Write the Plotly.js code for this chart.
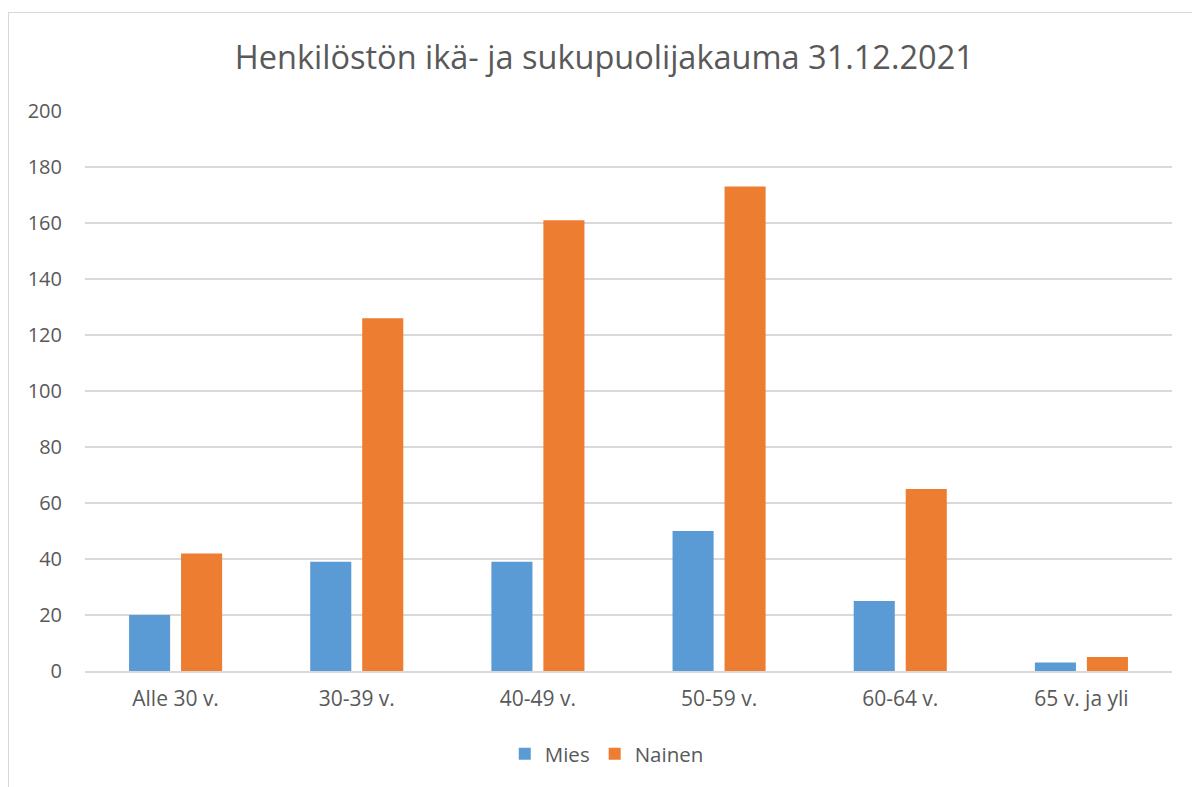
<!DOCTYPE html>
<html>
<head>
<meta charset="utf-8">
<script src="https://cdn.plot.ly/plotly-3.0.1.min.js"></script>
<style>
  html, body { margin: 0; padding: 0; background: #fff; overflow: hidden; }
  #chart { position: absolute; left: 0; top: 0; width: 1192px; height: 787px; }
  #frame { position: absolute; left: 8px; top: 12px; width: 1200px; height: 800px;
           border: 1px solid #d9d9d9; pointer-events: none; }
</style>
</head>
<body>
<div id="chart"></div>
<div id="frame"></div>
<script>
const categories = ["Alle 30 v.", "30-39 v.", "40-49 v.", "50-59 v.", "60-64 v.", "65 v. ja yli"];
const mies = [20, 39, 39, 50, 25, 3];
const nainen = [42, 126, 161, 173, 65, 5];
const yTicks = [0, 20, 40, 60, 80, 100, 120, 140, 160, 180, 200];

const fontFam = "'Open Sans', sans-serif";
const textColor = "#595959";

const data = [
  { type: "bar", name: "Mies", x: categories, y: mies,
    marker: { color: "#5B9BD5" }, hoverinfo: "x+y" },
  { type: "bar", name: "Nainen", x: categories, y: nainen,
    marker: { color: "#ED7D31" }, hoverinfo: "x+y" }
];

const layout = {
  width: 1192, height: 787,
  margin: { l: 85, r: 20, t: 111, b: 116 },
  paper_bgcolor: "#ffffff", plot_bgcolor: "#ffffff",
  font: { family: fontFam, color: textColor, size: 20 },
  title: { text: "Henkilöstön ikä- ja sukupuolijakauma 31.12.2021",
           font: { family: fontFam, size: 32.5, color: textColor },
           x: 0.507, xref: "container", xanchor: "center",
           y: 0.927, yref: "container", yanchor: "middle" },
  barmode: "group", bargap: 0.426, bargroupgap: 0.21,
  xaxis: { type: "category", showgrid: false, zeroline: false,
           showline: true, linecolor: "#d9d9d9", linewidth: 2,
           ticks: "", tickfont: { size: 21, color: textColor }, ticklabelstandoff: 8 },
  yaxis: { range: [0, 200], tickvals: yTicks, showgrid: true, gridcolor: "#d9d9d9", gridwidth: 1.5,
           zeroline: false, showline: false, ticks: "",
           tickfont: { size: 20, color: textColor }, ticklabelstandoff: 22 },
  showlegend: true,
  legend: { orientation: "h", x: 0.48, xanchor: "center", y: -0.148, yanchor: "middle",
            font: { size: 20.5, color: textColor }, itemwidth: 30, traceorder: "normal" }
};

Plotly.newPlot("chart", data, layout, { displayModeBar: false, staticPlot: true });
</script>
</body>
</html>
